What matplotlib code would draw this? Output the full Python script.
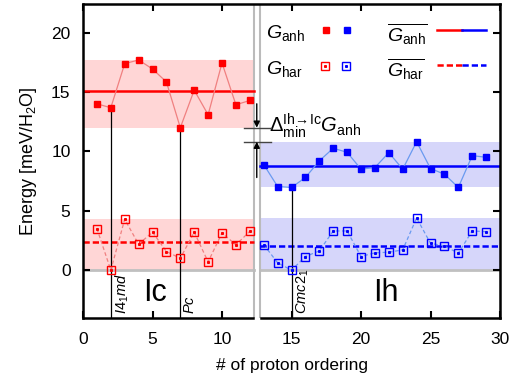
import numpy as np
import matplotlib
matplotlib.use("Agg")
import matplotlib.pyplot as plt

plt.rcParams['font.family'] = ['Liberation Sans', 'DejaVu Sans']
plt.rcParams['mathtext.fontset'] = 'custom'
plt.rcParams['mathtext.rm'] = 'Liberation Sans'
plt.rcParams['mathtext.it'] = 'Liberation Sans:italic'
plt.rcParams['mathtext.bf'] = 'Liberation Sans:bold'

# data
ic_x = np.arange(1, 13)
ic_anh = [14.0, 13.67, 17.38, 17.69, 16.93, 15.84, 11.99, 15.15, 13.08, 17.44, 13.92, 14.28]
ic_har = [3.5, 0.0, 4.28, 2.18, 3.2, 1.57, 1.0, 3.2, 0.7, 3.13, 2.13, 3.27]

ih_x = np.arange(13, 30)
ih_anh = [8.89, 7.04, 6.96, 7.8, 9.2, 10.26, 9.92, 8.5, 8.64, 9.89, 8.5, 10.81,
          8.55, 8.08, 6.96, 9.64, 9.5]
ih_har = [2.15, 0.62, 0.0, 1.15, 1.62, 3.3, 3.3, 1.15, 1.46, 1.51, 1.71, 4.39,
          2.26, 2.04, 1.43, 3.3, 3.24]

# marked proton orderings
special_x = [2, 7, 15]
special_y = [ic_anh[1], ic_anh[6], ih_anh[2]]
special_lab = [r'$I4_1md$', r'$Pc$', r'$Cmc2_1$']

red = '#ff0000'
blue = '#0000ff'
red_lt = '#f08080'
blue_lt = '#6a9af0'
pink = '#ffd6d6'
lilac = '#d6d6fa'

xmin, xmax = 0, 30
ymin, ymax = -4, 22.4
cut1, cut2 = 12.28, 12.74

fig = plt.figure(figsize=(5.14, 3.89), dpi=100)
ax = fig.add_axes([0.1615, 0.1833, 0.8113, 0.8064])

# bands (min..max)
ax.fill_between([xmin, cut1], min(ic_anh), max(ic_anh), color=pink, lw=0, zorder=0)
ax.fill_between([xmin, cut1], min(ic_har), max(ic_har), color=pink, lw=0, zorder=0)
ax.fill_between([cut2, xmax], min(ih_anh), max(ih_anh), color=lilac, lw=0, zorder=0)
ax.fill_between([cut2, xmax], min(ih_har), max(ih_har), color=lilac, lw=0, zorder=0)

# zero lines
ax.plot([xmin, cut1], [0, 0], color='#c0c0c0', lw=2, zorder=1)
ax.plot([cut2, xmax], [0, 0], color='#c0c0c0', lw=2, zorder=1)

# mean lines
ax.plot([xmin, cut1], [np.mean(ic_anh)] * 2, color=red, lw=1.8, zorder=2)
ax.plot([xmin, cut1], [np.mean(ic_har)] * 2, color=red, lw=1.8, ls=(0, (2.5, 1.2)), zorder=2)
ax.plot([cut2, xmax], [np.mean(ih_anh)] * 2, color=blue, lw=1.8, zorder=2)
ax.plot([cut2, xmax], [np.mean(ih_har)] * 2, color=blue, lw=1.8, ls=(0, (2.5, 1.2)), zorder=2)

# vertical markers for special orderings
ax.vlines(special_x, ymin, special_y, color='black', lw=0.9, zorder=2)
for sx, lab in zip(special_x, special_lab):
    ax.text(sx + 0.2, -3.7, lab, rotation=90, ha='left', va='bottom', fontsize=10.5)

# data series
ax.plot(ic_x, ic_anh, color=red_lt, lw=0.9, zorder=3)
ax.plot(ic_x, ic_anh, 's', color=red, ms=4.5, zorder=4)
ax.plot(ic_x, ic_har, color=red_lt, lw=0.9, ls=(0, (3, 2)), zorder=3)
ax.plot(ic_x, ic_har, 's', mfc='none', mec=red, mew=1.0, ms=6, zorder=4)
ax.plot(ic_x, ic_har, 's', color=red, ms=1.2, zorder=4)

ax.plot(ih_x, ih_anh, color=blue_lt, lw=0.9, zorder=3)
ax.plot(ih_x, ih_anh, 's', color=blue, ms=4.5, zorder=4)
ax.plot(ih_x, ih_har, color=blue_lt, lw=0.9, ls=(0, (3, 2)), zorder=3)
ax.plot(ih_x, ih_har, 's', mfc='none', mec=blue, mew=1.0, ms=6, zorder=4)
ax.plot(ih_x, ih_har, 's', color=blue, ms=1.2, zorder=4)

# axis break lines
for c in (cut1, cut2):
    ax.axvline(c, color='#bbbbbb', lw=1.5, zorder=1)

# phase labels
ax.text(5.2, -1.9, 'Ic', fontsize=22, ha='center', va='center')
ax.text(21.8, -1.9, 'Ih', fontsize=22, ha='center', va='center')

# Delta annotation
lo_ic = min(ic_anh)
hi_ih = max(ih_anh)
ax.plot([11.55, 13.5], [lo_ic, lo_ic], color='#444444', lw=1.0, zorder=5)
ax.plot([11.55, 13.5], [hi_ih, hi_ih], color='#444444', lw=1.0, zorder=5)
ax.annotate('', xy=(12.5, lo_ic), xytext=(12.5, 14.0),
            arrowprops=dict(arrowstyle='-|>', color='black', lw=1.0,
                            mutation_scale=9, shrinkA=0, shrinkB=0), zorder=6)
ax.annotate('', xy=(12.5, hi_ih), xytext=(12.5, 7.8),
            arrowprops=dict(arrowstyle='-|>', color='black', lw=1.0,
                            mutation_scale=9, shrinkA=0, shrinkB=0), zorder=6)
ax.text(13.4, 12.2,
        r'$\Delta_{\rm min}^{\rm Ih\!\rightarrow\!Ic}G_{\rm anh}$',
        fontsize=14.5, ha='left', va='center')

# legend built by hand
ax.text(13.2, 20.0, r'$G_{\rm anh}$', fontsize=14, ha='left', va='center')
ax.text(13.2, 16.9, r'$G_{\rm har}$', fontsize=14, ha='left', va='center')
ax.plot([17.5], [20.2], 's', color=red, ms=4.5)
ax.plot([19.0], [20.2], 's', color=blue, ms=4.5)
ax.plot([17.4], [17.2], 's', mfc='none', mec=red, mew=1.0, ms=6)
ax.plot([17.4], [17.2], 's', color=red, ms=1.2)
ax.plot([18.95], [17.2], 's', mfc='none', mec=blue, mew=1.0, ms=6)
ax.plot([18.95], [17.2], 's', color=blue, ms=1.2)
ax.text(21.9, 19.9, r'$\overline{G_{\rm anh}}$', fontsize=14, ha='left', va='center')
ax.text(21.9, 16.9, r'$\overline{G_{\rm har}}$', fontsize=14, ha='left', va='center')
ax.plot([25.5, 27.25], [20.2, 20.2], color=red, lw=1.8)
ax.plot([27.25, 29.0], [20.2, 20.2], color=blue, lw=1.8)
ax.plot([25.5, 27.25], [17.25, 17.25], color=red, lw=1.8, ls=(0, (2.5, 1.2)))
ax.plot([27.25, 29.0], [17.25, 17.25], color=blue, lw=1.8, ls=(0, (2.5, 1.2)))

ax.set_xlim(xmin, xmax)
ax.set_ylim(ymin, ymax)
ax.set_xticks([0, 5, 10, 15, 20, 25, 30])
ax.set_yticks([0, 5, 10, 15, 20])
ax.tick_params(direction='in', top=True, right=True, length=5, width=1.5,
               labelsize=12.5)
ax.tick_params(axis='x', pad=10)
ax.tick_params(axis='y', pad=9)

for s in ('left', 'right', 'top'):
    ax.spines[s].set_linewidth(1.8)
# broken bottom spine
ax.spines['bottom'].set_visible(False)
tr = ax.get_xaxis_transform()
ax.plot([xmin, cut1 - 0.05], [0, 0], color='black', lw=1.8, transform=tr,
        clip_on=False, solid_capstyle='projecting', zorder=7)
ax.plot([cut2 + 0.05, xmax], [0, 0], color='black', lw=1.8, transform=tr,
        clip_on=False, solid_capstyle='projecting', zorder=7)

ax.set_xlabel('# of proton ordering', fontsize=12.5, labelpad=8)
ax.set_ylabel(r'Energy [meV/H$_2$O]', fontsize=13, labelpad=9)

fig.savefig('out.png', dpi=100)
